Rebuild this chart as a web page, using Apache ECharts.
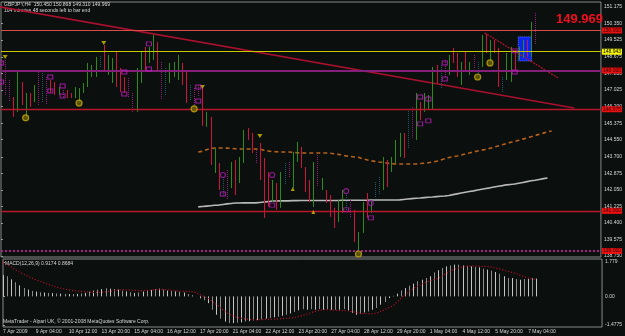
<!DOCTYPE html>
<html><head><meta charset="utf-8">
<script src="https://cdn.jsdelivr.net/npm/echarts@6/dist/echarts.min.js"></script>
<style>html,body{margin:0;padding:0;background:#0b0f0d}#c{width:625px;height:336px}</style>
</head><body><div id="c"></div><script>
// ---- time axis ----
const tickLabels = ["7 Apr 2009","9 Apr 04:00","10 Apr 12:00","13 Apr 20:00","15 Apr 04:00","16 Apr 12:00","17 Apr 20:00","21 Apr 04:00","22 Apr 12:00","23 Apr 20:00","27 Apr 04:00","28 Apr 12:00","29 Apr 20:00","1 May 04:00","4 May 12:00","5 May 20:00","7 May 04:00"];
const barsPerLabel = 8;
const priceTicks = [151.175,150.350,149.525,148.675,147.850,147.025,146.200,145.375,144.550,143.700,142.875,142.050,141.225,140.400,139.575,138.750];
const macdTicks = [1.779, 0, -1.4775];
const macdTickText = ["1.779","0.00","-1.4775"];

// ---- price bars (H4) ----
const barHigh = [148.43,148.53,147.53,146.68,147.93,147.43,146.88,146.88,147.28,147.93,147.88,147.68,147.53,147.43,147.18,147.03,147.03,146.88,147.18,147.13,147.38,148.38,148.28,148.68,148.73,149.28,148.78,148.63,148.93,148.13,147.68,147.63,146.88,148.13,148.93,149.18,149.18,149.78,149.43,148.43,148.13,148.38,148.43,148.78,148.38,147.93,147.28,147.13,147.28,147.13,145.94,145.69,144.14,143.39,142.69,143.04,143.44,143.54,143.69,145.04,145.14,144.89,144.04,144.39,143.64,142.94,142.54,142.39,142.94,143.39,143.44,143.94,144.44,144.19,143.19,142.54,143.44,143.79,142.64,142.04,141.79,141.15,141.54,142.04,141.79,141.54,141.05,139.95,141.44,141.89,141.54,142.44,142.69,143.69,143.54,143.69,144.54,144.89,144.89,145.99,146.19,146.88,146.43,146.88,146.78,148.18,148.28,148.28,148.53,148.78,149.13,148.88,148.43,148.93,148.43,148.78,148.43,149.78,149.83,149.53,149.53,149.13,147.68,148.88,149.18,149.03,149.18,149.53,149.53,150.43,150.868];
const barLow = [147.03,146.78,146.43,145.69,145.94,146.28,145.64,146.19,146.43,146.28,146.43,146.28,146.88,146.78,146.78,146.63,146.63,146.63,146.63,146.38,146.88,147.18,147.68,147.68,148.18,148.03,147.78,147.38,147.18,146.93,146.88,146.68,145.89,145.94,147.38,148.03,148.38,148.53,147.93,146.53,146.78,147.38,147.68,147.53,147.28,146.38,146.53,146.13,146.68,145.24,145.19,143.29,142.89,142.04,141.69,141.54,142.14,141.79,142.39,143.39,144.54,143.89,143.39,142.54,140.65,141.20,141.44,141.05,141.15,142.29,142.64,142.14,143.44,143.14,141.94,141.44,141.20,142.19,142.04,141.39,140.70,140.15,140.45,140.90,141.05,140.65,139.45,138.90,139.90,140.65,140.90,141.69,141.79,142.04,142.19,142.94,143.39,143.69,143.64,144.14,144.64,144.54,145.54,145.94,146.04,146.04,147.38,147.13,147.68,147.78,148.38,147.68,147.28,148.03,147.78,148.13,147.78,148.18,148.88,148.38,148.88,147.18,146.93,147.53,147.43,148.03,148.53,148.63,148.68,148.68,149.31];
// bar colour class: g up, r down, m magenta, t teal
const barKind = ("mmmrgrgrgm"+"tmrrgmrrgg"+"ggggtrggrr"+"rmmggrggrm"+"tgggrrtmmr"+"grgrtmgrgg"+"rrmrrrgrgt"+"mggrrrgmgr"+"rrggtmrggr"+"gttgrgggrt"+"mgrgggrtmg"+"rrgrgmtgrg"+"rrtggrggrgm").split("");
const kindColor = {g:"#2f8a1c", r:"#cc143c", m:"#961f80", t:"#1f5a6a"};

// ---- moving averages (start index + values) ----
const maOrangeStart = 48;
const maOrange = [143.94,143.97,144.05,144.12,144.14,144.14,144.14,144.13,144.12,144.10,144.09,144.09,144.09,144.09,144.09,144.08,144.02,143.99,143.96,143.95,143.94,143.94,143.94,143.92,143.90,143.89,143.89,143.89,143.89,143.89,143.89,143.89,143.88,143.85,143.82,143.79,143.74,143.72,143.69,143.67,143.60,143.55,143.50,143.47,143.44,143.42,143.38,143.36,143.34,143.34,143.34,143.34,143.34,143.34,143.36,143.38,143.40,143.44,143.48,143.54,143.60,143.66,143.70,143.74,143.79,143.84,143.89,143.94,143.99,144.03,144.06,144.12,144.18,144.24,144.30,144.36,144.42,144.46,144.52,144.58,144.64,144.70,144.76,144.82,144.88,144.94,144.99];
const maWhiteStart = 48;
const maWhite = [141.20,141.22,141.24,141.26,141.28,141.29,141.32,141.35,141.37,141.39,141.39,141.40,141.40,141.40,141.40,141.42,141.44,141.46,141.49,141.49,141.50,141.50,141.50,141.51,141.51,141.52,141.52,141.52,141.52,141.52,141.52,141.52,141.52,141.52,141.52,141.53,141.53,141.53,141.53,141.53,141.53,141.53,141.54,141.54,141.54,141.54,141.54,141.54,141.54,141.55,141.57,141.59,141.61,141.63,141.64,141.66,141.68,141.69,141.71,141.73,141.74,141.77,141.81,141.85,141.89,141.93,141.97,142.00,142.04,142.08,142.12,142.15,142.19,142.23,142.26,142.30,142.32,142.34,142.38,142.42,142.46,142.50,142.53,142.57,142.61,142.64];

// ---- MACD ----
const macdHist = [1.10,1.04,0.88,0.73,0.57,0.43,0.35,0.28,0.25,0.21,0.20,0.18,0.17,0.15,0.14,0.13,0.12,0.12,0.13,0.15,0.18,0.25,0.30,0.35,0.38,0.42,0.40,0.38,0.35,0.30,0.26,0.22,0.18,0.20,0.25,0.30,0.33,0.38,0.40,0.35,0.30,0.28,0.26,0.24,0.20,0.12,0.05,0.0,-0.10,-0.20,-0.35,-0.69,-0.95,-1.15,-1.30,-1.38,-1.38,-1.36,-1.34,-1.30,-1.28,-1.25,-1.22,-1.18,-1.15,-1.12,-1.08,-1.05,-1.00,-0.95,-0.88,-0.80,-0.72,-0.66,-0.69,-0.66,-0.69,-0.66,-0.69,-0.66,-0.69,-0.69,-0.69,-0.66,-0.73,-0.86,-0.95,-0.90,-0.83,-0.78,-0.69,-0.60,-0.43,-0.29,-0.09,0.03,0.14,0.31,0.43,0.55,0.66,0.78,0.86,0.95,1.04,1.24,1.35,1.47,1.55,1.60,1.64,1.64,1.60,1.58,1.55,1.52,1.50,1.43,1.38,1.33,1.26,1.17,1.04,0.95,0.95,0.90,0.86,0.90,0.90,0.95,0.92];
const macdSignal = [1.75,1.64,1.52,1.38,1.26,1.15,1.05,0.95,0.86,0.78,0.70,0.62,0.55,0.48,0.43,0.38,0.34,0.30,0.28,0.26,0.24,0.22,0.21,0.21,0.21,0.23,0.26,0.29,0.32,0.35,0.34,0.32,0.31,0.30,0.30,0.31,0.33,0.35,0.36,0.36,0.34,0.32,0.30,0.28,0.26,0.26,0.25,0.20,0.09,0.0,-0.10,-0.26,-0.42,-0.58,-0.78,-0.90,-1.00,-1.08,-1.12,-1.16,-1.19,-1.21,-1.21,-1.20,-1.19,-1.18,-1.18,-1.16,-1.14,-1.13,-1.12,-1.10,-1.04,-0.98,-0.92,-0.85,-0.78,-0.72,-0.68,-0.69,-0.70,-0.72,-0.73,-0.74,-0.74,-0.78,-0.82,-0.86,-0.89,-0.90,-0.90,-0.86,-0.78,-0.68,-0.58,-0.50,-0.30,-0.10,0.09,0.25,0.40,0.52,0.62,0.72,0.80,0.87,0.92,1.05,1.18,1.30,1.40,1.47,1.52,1.55,1.56,1.57,1.56,1.55,1.55,1.52,1.47,1.42,1.36,1.30,1.24,1.18,1.10,1.02,0.95,0.90,0.87];

// ---- drawn objects ----
const hLevels = [150.000, 148.943, 148.000, 146.075, 141.000, 139.000];
const hLevelText = ["150.000","148.943","148.000","146.075","141.000","139.000"];
const trendA = [[-0.24,151.175],[139.5,146.135]];
const trendB = [[117.7,149.88],[135.6,147.63]];
const boxRect = [[125.9,149.68],[129.1,148.48]];
const markDown = [[1,148.68],[25,149.38],[49,147.18],[63,144.74]];
const markUp = [[71,142.09],[76,140.94]];
const markRing = [[6,145.64],[19,146.38],[47,146.09],[87,138.85],[116,147.68],[119,148.38]];
const markSquare = [[0,148.38],[0,147.43],[12,147.68],[12,146.98],[15,147.23],[15,146.73],[30,147.93],[30,146.83],[36,149.33],[36,148.08],[48,147.18],[48,146.48],[54,141.84],[66,141.29],[84,141.05],[90,140.65],[102,146.68],[104,146.58],[102,145.34],[104,145.49],[108,148.38],[108,147.58],[125,148.98],[125,147.93]];
const markCircle = [[54,142.79],[66,142.79],[84,141.99],[90,141.39]];
const lastPrice = "149.969";

const FONT = "Liberation Sans";
const txt = "#d8d8d8";
const chart = echarts.init(document.getElementById('c'), null, {renderer:'canvas'});

const hStyles = [
  {color:"#d84c4c", width:1, type:"solid", tag:"#e81010", tc:"#300000"},
  {color:"#c8c800", width:1.2, type:"solid", tag:"#f4f400", tc:"#000"},
  {color:"#84207a", width:2, type:"solid", tag:"#e81010", tc:"#300000"},
  {color:"#b8182c", width:1.4, type:"solid", tag:"#e81010", tc:"#300000"},
  {color:"#b8182c", width:1.4, type:"solid", tag:"#e81010", tc:"#300000"},
  {color:"#a8208a", width:2, type:"dotted", tag:"#e81010", tc:"#300000"}
];

const option = {
  backgroundColor: "#0b0f0d",
  animation: false,
  grid: [
    {left:1, right:20, top:2, height:255, show:true, borderColor:"#8a8a8a", borderWidth:1, backgroundColor:"transparent"},
    {left:1, right:20, top:259, height:68, show:true, borderColor:"#8a8a8a", borderWidth:1, backgroundColor:"transparent"}
  ],
  xAxis: [
    {type:"value", gridIndex:0, min:0, max:146, show:false},
    {type:"value", gridIndex:1, min:0, max:146, splitLine:{show:false},
     axisLine:{show:false}, axisTick:{show:false},
     axisLabel:{show:true, customValues: tickLabels.map((_,k)=>k*barsPerLabel), formatter:v=>tickLabels[Math.round(v/barsPerLabel)]||"",
       color:txt, fontSize:5, fontFamily:FONT, align:"left", margin:2, showMinLabel:true, showMaxLabel:true}}
  ],
  yAxis: [
    {type:"value", gridIndex:0, position:"right", min:138.70, max:151.42, splitLine:{show:false},
     axisLine:{show:false}, axisTick:{show:true, length:2, lineStyle:{color:"#9a9a9a"}, customValues:priceTicks},
     axisLabel:{customValues:priceTicks, formatter:v=>v.toFixed(3), color:txt, fontSize:5, fontFamily:FONT, margin:3}},
    {type:"value", gridIndex:1, position:"right", min:-1.58, max:1.93, splitLine:{show:false},
     axisLine:{show:false}, axisTick:{show:true, length:2, lineStyle:{color:"#9a9a9a"}, customValues:macdTicks},
     axisLabel:{customValues:macdTicks, formatter:v=>{const k=macdTicks.findIndex(t=>Math.abs(t-v)<1e-6);return k>=0?macdTickText[k]:"";}, color:txt, fontSize:5, fontFamily:FONT, margin:3}}
  ],
  series: [
    {type:"line", xAxisIndex:0, yAxisIndex:0, data:[], silent:true, z:1,
     markLine:{symbol:["none","none"], silent:true,
       data: hLevels.map((v,k)=>({yAxis:v, lineStyle:{color:hStyles[k].color, width:hStyles[k].width, type:hStyles[k].type, opacity:1},
         label:{show:true, position:"end", distance:1, formatter:hLevelText[k], backgroundColor:hStyles[k].tag, color:hStyles[k].tc,
           fontSize:5, fontFamily:FONT, padding:[1,1,0,1]}}))},
     markArea:{silent:true, itemStyle:{color:"#0b24f0", borderColor:"#5a78ff", borderWidth:1, borderType:"dotted", opacity:1},
       data:[[{coord:boxRect[0]},{coord:boxRect[1]}]]}},
    {type:"line", xAxisIndex:0, yAxisIndex:0, z:2, showSymbol:false, silent:true,
     data: maOrange.map((v,k)=>[maOrangeStart+k, v]), lineStyle:{color:"#b5611e", width:1.6, type:[4,3]}},
    {type:"line", xAxisIndex:0, yAxisIndex:0, z:2, showSymbol:false, silent:true,
     data: maWhite.map((v,k)=>[maWhiteStart+k, v]), lineStyle:{color:"#b9b9b9", width:1.6}},
    {type:"line", xAxisIndex:0, yAxisIndex:0, z:3, showSymbol:false, silent:true, clip:true,
     data: trendA, lineStyle:{color:"#a8102e", width:1.6}},
    {type:"line", xAxisIndex:0, yAxisIndex:0, z:3, showSymbol:false, silent:true, clip:true,
     data: trendB, lineStyle:{color:"#b8142e", width:1.2, type:[2,1]}},
    {type:"custom", xAxisIndex:0, yAxisIndex:0, z:4, clip:true,
     data: barHigh.map((h,i)=>[i, h, barLow[i]]),
     renderItem:function(params, api){
       const i = api.value(0);
       const p1 = api.coord([i, api.value(1)]), p2 = api.coord([i, api.value(2)]);
       const k = barKind[params.dataIndex];
       const x = Math.round(p1[0]) + 0.5;
       return {type:"line", shape:{x1:x, y1:p1[1], x2:x, y2:p2[1]},
         style:{stroke:kindColor[k], lineWidth:1, lineDash:(k==="m"||k==="t")?[1,1]:null}};
     }},
    {type:"scatter", xAxisIndex:0, yAxisIndex:0, z:5, data:markDown, symbol:"triangle", symbolRotate:180, symbolSize:[5,4], itemStyle:{color:"#d0c000"}},
    {type:"scatter", xAxisIndex:0, yAxisIndex:0, z:5, data:markUp, symbol:"triangle", symbolSize:[4,4], itemStyle:{color:"#d0c000"}},
    {type:"scatter", xAxisIndex:0, yAxisIndex:0, z:5, data:markRing, symbol:"circle", symbolSize:6, itemStyle:{color:"#6e6200", borderColor:"#c4aa10", borderWidth:1.2}},
    {type:"scatter", xAxisIndex:0, yAxisIndex:0, z:5, data:markSquare, symbol:"rect", symbolSize:[5,4], itemStyle:{color:"rgba(0,0,0,0)", borderColor:"#c21cc2", borderWidth:1}},
    {type:"scatter", xAxisIndex:0, yAxisIndex:0, z:5, data:markCircle, symbol:"circle", symbolSize:5, itemStyle:{color:"rgba(0,0,0,0)", borderColor:"#a51cb0", borderWidth:1.2}},
    {type:"custom", xAxisIndex:1, yAxisIndex:1, z:2,
     data: macdHist.map((v,i)=>[i, v]),
     renderItem:function(params, api){
       const p1 = api.coord([api.value(0), 0]), p2 = api.coord([api.value(0), api.value(1)]);
       const x = Math.round(p1[0]) + 0.5;
       return {type:"line", shape:{x1:x, y1:p1[1], x2:x, y2:p2[1]},
         style:{stroke: params.dataIndex%2 ? "#8c8c8c" : "#c4c4c4", lineWidth:1}};
     }},
    {type:"line", xAxisIndex:1, yAxisIndex:1, z:3, showSymbol:false, silent:true,
     data: macdSignal.map((v,i)=>[i, v]), lineStyle:{color:"#c8102a", width:1.2, type:[1,2]}}
  ],
  graphic: [
    {type:"text", left:4, top:2, style:{text:"GBPJPY,H4  150.450 150.868 149.310 149.969", fill:txt, fontSize:5, fontFamily:FONT}},
    {type:"text", left:4, top:8, style:{text:"104 minutes 48 seconds left to bar end", fill:txt, fontSize:5, fontFamily:FONT}},
    {type:"text", right:22, top:13, style:{text:lastPrice, fill:"#f01020", fontSize:13, fontWeight:"bold", fontFamily:FONT}},
    {type:"text", left:5, top:261, style:{text:"MACD(12,26,9) 0.9174 0.8684", fill:txt, fontSize:5, fontFamily:FONT}},
    {type:"text", left:3, top:319, style:{text:"MetaTrader - Alpari UK, \u00a9 2001-2008 MetaQuotes Software Corp.", fill:txt, fontSize:5, fontFamily:FONT}}
  ]
};
chart.setOption(option);
</script></body></html>
